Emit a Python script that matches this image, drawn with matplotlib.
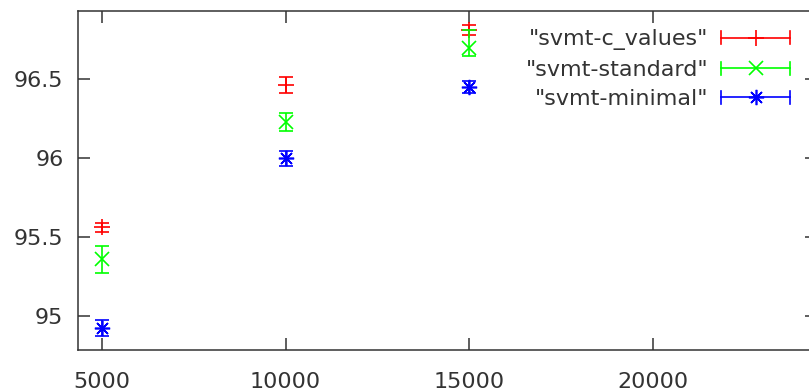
import matplotlib
matplotlib.use("Agg")
import matplotlib.pyplot as plt
from matplotlib.lines import Line2D
from matplotlib.legend_handler import HandlerBase
import numpy as np

# ---- data ----
sizes = [5000, 10000, 15000]
labels = ['"svmt-c_values"', '"svmt-standard"', '"svmt-minimal"']
c_values_mean = [95.562, 96.464, 96.812]
c_values_low = [95.530, 96.412, 96.781]
c_values_high = [95.591, 96.517, 96.844]
standard_mean = [95.359, 96.232, 96.698]
standard_low = [95.276, 96.175, 96.648]
standard_high = [95.443, 96.289, 96.812]
minimal_mean = [94.927, 96.000, 96.451]
minimal_low = [94.873, 95.951, 96.411]
minimal_high = [94.975, 96.048, 96.491]
xticks = [5000, 10000, 15000, 20000]
yticks = [95, 95.5, 96, 96.5]
ytick_labels = ["95", "95.5", "96", "96.5"]

W, H = 809, 391
fig = plt.figure(figsize=(W / 100, H / 100), dpi=100)
plt.rcParams['font.family'] = ['DejaVu Sans']
fs = 16
axcol = '#333333'

ax = fig.add_axes([78 / W, (H - 350) / H, (817 - 78) / W, (350 - 11) / H])
ax.set_xlim(4346, 24482)
ax.set_ylim(94.785, 96.933)

series = [
    (c_values_mean, c_values_low, c_values_high, '#ff0000', '+', 11),
    (standard_mean, standard_low, standard_high, '#00ff00', 'x', 10),
    (minimal_mean, minimal_low, minimal_high, '#0000ff', (8, 2, 0), 11),
]
handles = []
for (m, lo, hi, col, mk, ms), lab in zip(series, labels):
    m = np.array(m); lo = np.array(lo); hi = np.array(hi)
    c = ax.errorbar(sizes, m, yerr=[m - lo, hi - m], fmt='none', ecolor=col,
                    elinewidth=1.2, capsize=5.2, capthick=1.2, label=lab)
    ax.plot(sizes, m, linestyle='none', marker=mk, markersize=ms,
            markeredgewidth=1.2, color=col)
    handles.append((c, col, mk, ms))


class HandlerHErr(HandlerBase):
    def __init__(self, col, mk, ms):
        super().__init__()
        self.col, self.mk, self.ms = col, mk, ms

    def create_artists(self, legend, orig_handle, xdescent, ydescent,
                       width, height, fontsize, trans):
        y = height / 2 - ydescent
        x0 = -xdescent
        x1 = width - xdescent
        h = 6.5 * 0.72
        arts = [
            Line2D([x0, x1], [y, y], color=self.col, lw=1.2),
            Line2D([x0, x0], [y - h, y + h], color=self.col, lw=1.2),
            Line2D([x1, x1], [y - h, y + h], color=self.col, lw=1.2),
            Line2D([(x0 + x1) / 2], [y], marker=self.mk, markersize=self.ms,
                   markeredgewidth=1.2, color=self.col, linestyle='none'),
        ]
        for a in arts:
            a.set_transform(trans)
        return arts


fpx = fs * 100 / 72
hmap = {c: HandlerHErr(col, mk, ms) for c, col, mk, ms in handles}
leg = ax.legend([h[0] for h in handles], labels, handler_map=hmap,
                loc='upper right', bbox_to_anchor=(790 / W, (H - 29.5) / H),
                bbox_transform=fig.transFigure, frameon=False, markerfirst=False,
                fontsize=fs, handlelength=69 / fpx, handletextpad=13 / fpx,
                labelspacing=0.42, borderpad=0, borderaxespad=0)
for t in leg.get_texts():
    t.set_color(axcol)

ax.set_xticks(xticks)
ax.set_yticks(yticks)
ax.set_yticklabels(ytick_labels)
ax.tick_params(direction='in', length=8.6, width=1.1, color=axcol,
               labelcolor=axcol, labelsize=fs, top=True, right=True)
ax.tick_params(axis='y', pad=10.5)
ax.tick_params(axis='x', pad=16)
for s in ax.spines.values():
    s.set_color(axcol)
    s.set_linewidth(1.1)

fig.savefig('out.png', dpi=100)
